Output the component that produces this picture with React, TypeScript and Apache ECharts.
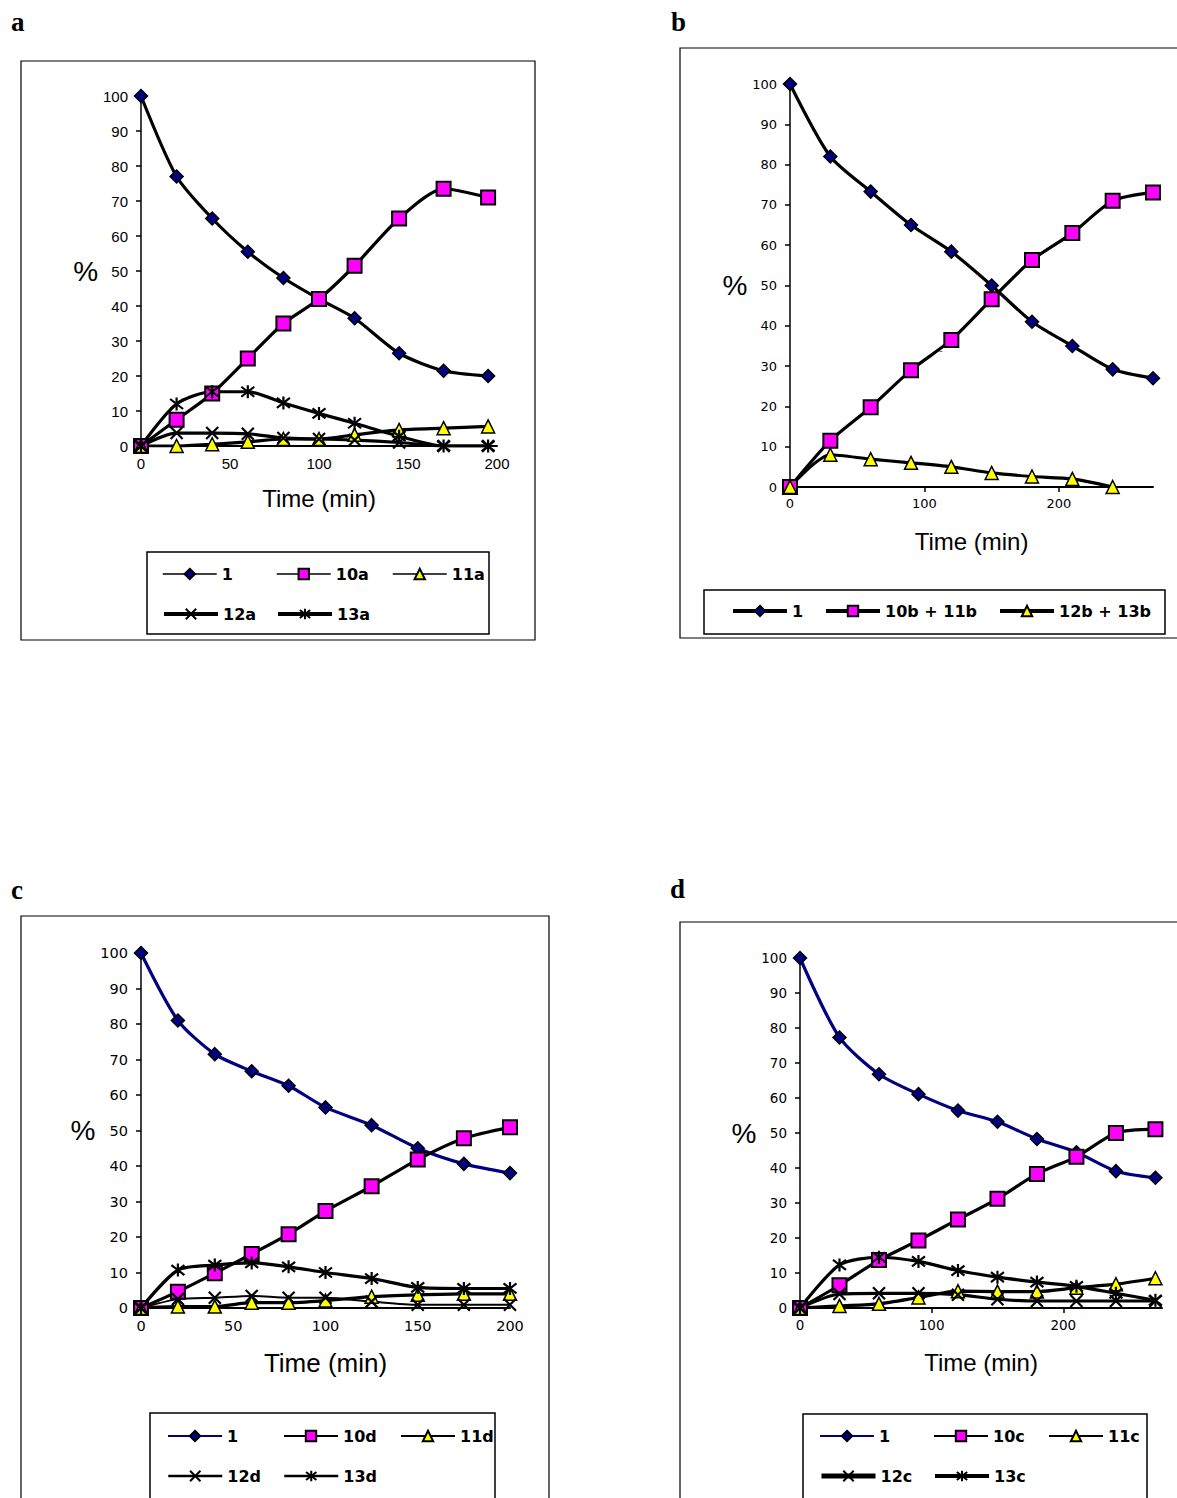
import React, { useEffect, useRef } from 'react';
import * as echarts from 'echarts';

// ---------- DATA ----------
const timeA = [0, 20, 40, 60, 80, 100, 120, 145, 170, 195];
const a1 = [100, 77, 65, 55.5, 48, 42, 36.5, 26.5, 21.5, 20];
const a10a = [0, 7.5, 15, 25, 35, 42, 51.5, 65, 73.5, 71];
const a11a = [0, 0, 0.5, 1.2, 2, 2, 3.2, 4.6, 5.1, 5.6];
const a12a = [0, 3.7, 3.7, 3.5, 2.3, 2, 1.7, 1, 0, 0];
const a13a = [0, 12, 15.5, 15.5, 12.3, 9.3, 6.5, 2.8, 0, 0];

const timeB = [0, 30, 60, 90, 120, 150, 180, 210, 240, 270];
const b1 = [100, 82, 73.3, 65, 58.4, 50, 41, 35, 29.2, 27];
const b10b11b = [0, 11.5, 19.8, 29, 36.5, 46.6, 56.3, 63, 71, 73.1];
const timeB12 = [0, 30, 60, 90, 120, 150, 180, 210, 240];
const b12b13b = [0, 8, 6.9, 6, 5, 3.5, 2.6, 2, 0];

const timeC = [0, 20, 40, 60, 80, 100, 125, 150, 175, 200];
const c1 = [100, 81, 71.5, 66.7, 62.6, 56.5, 51.5, 45, 40.6, 38];
const c10d = [0, 4.6, 9.8, 15.2, 20.8, 27.3, 34.3, 41.8, 47.8, 50.9];
const c11d = [0, 0.4, 0.4, 1.5, 1.5, 2.1, 3.2, 3.7, 4, 4];
const c12d = [0, 2.5, 2.9, 3.4, 2.9, 2.9, 1.8, 0.9, 0.9, 0.9];
const c13d = [0, 10.7, 12.1, 12.7, 11.6, 10, 8.3, 5.8, 5.5, 5.5];

const timeD = [0, 30, 60, 90, 120, 150, 180, 210, 240, 270];
const d1 = [100, 77.3, 66.8, 61.1, 56.4, 53.2, 48.3, 44.5, 39.1, 37.2];
const d10c = [0, 6.5, 13.7, 19.3, 25.3, 31.2, 38.3, 43.2, 50, 51.1];
const d11c = [0, 0.6, 1.2, 3, 4.8, 4.7, 4.7, 5.8, 6.8, 8.5];
const d12c = [0, 4, 4.2, 4.2, 3.8, 2.5, 2, 2, 2, 2];
const d13c = [0, 12.3, 14.5, 13.3, 10.7, 8.8, 7.4, 6.2, 4.2, 2.2];

const yTicks = [0, 10, 20, 30, 40, 50, 60, 70, 80, 90, 100];
const xTicksLong = [0, 100, 200];
const panelLetters = ['a', 'b', 'c', 'd'];

// ---------- STYLE ----------
const NAVY = '#000080';
const MAGENTA = '#FF00FF';
const YELLOW = '#FFFF00';
const X_SYM = 'path://M0,0L10,10M10,0L0,10';
const STAR_SYM = 'path://M0,0L10,10M10,0L0,10M5,-1.5L5,11.5';

const MARK: Record<string, any> = {
  diamond: { symbol: 'diamond', symbolSize: 13, itemStyle: { color: NAVY, borderColor: '#000', borderWidth: 1.5 } },
  square: { symbol: 'rect', symbolSize: 14, itemStyle: { color: MAGENTA, borderColor: '#000', borderWidth: 2 } },
  triangle: { symbol: 'triangle', symbolSize: 13, itemStyle: { color: YELLOW, borderColor: '#000', borderWidth: 1.5 } },
  cross: { symbol: X_SYM, symbolSize: 12, itemStyle: { color: '#000', borderColor: '#000', borderWidth: 2.2 } },
  star: { symbol: STAR_SYM, symbolSize: 13, itemStyle: { color: '#000', borderColor: '#000', borderWidth: 2.2 } },
};

const pairs = (xs: number[], ys: number[]) => xs.map((x, i) => [x, ys[i]]);

function line(panel: number, label: string, xs: number[], ys: number[], mark: string, color = '#000', width = 3.2) {
  const m = MARK[mark];
  return {
    type: 'line',
    name: panelLetters[panel] + '|' + label,
    xAxisIndex: panel,
    yAxisIndex: panel,
    data: pairs(xs, ys),
    smooth: 0.25,
    symbol: m.symbol,
    symbolSize: m.symbolSize,
    itemStyle: m.itemStyle,
    lineStyle: { color, width },
    showAllSymbol: true,
  };
}

function legendItem(panel: number, label: string, left: number, cy: number, lw: number, color = '#000', weight = 'bold') {
  return {
    show: true,
    data: [{ name: panelLetters[panel] + '|' + label, lineStyle: { width: lw, color } }],
    left,
    top: cy - 9,
    padding: 0,
    itemWidth: 54,
    itemHeight: 13,
    selectedMode: false,
    formatter: (n: string) => n.split('|')[1],
    textStyle: { fontFamily: 'DejaVu Sans', fontWeight: weight, fontSize: 16, color: '#000' },
  };
}

function panelAxes(i: number, xMax: number, xInt: number, labelFont: string, labelSize: number, titleSize: number, xNameGap: number, yNameGap: number, xTicks: boolean) {
  const xLabel: any = { fontFamily: labelFont, fontSize: labelSize, color: '#000', margin: 10 };
  const xTick: any = { show: xTicks, inside: false, length: 5, lineStyle: { color: '#000', width: 1.5 } };
  if (xTicks) {
    xLabel.customValues = xTicksLong;
    xTick.customValues = xTicksLong;
  }
  const xAxis = {
    type: 'value',
    gridIndex: i,
    min: 0,
    max: xMax,
    interval: xInt,
    name: 'Time (min)',
    nameLocation: 'middle',
    nameGap: xNameGap,
    nameTextStyle: { fontFamily: 'Liberation Sans', fontSize: titleSize, color: '#000' },
    axisLine: { show: true, onZero: true, lineStyle: { color: '#000', width: 2 } },
    axisTick: xTick,
    axisLabel: xLabel,
    splitLine: { show: false },
  };
  const yAxis = {
    type: 'value',
    gridIndex: i,
    min: 0,
    max: 100,
    interval: 10,
    name: '%',
    nameLocation: 'middle',
    nameRotate: 0,
    nameGap: yNameGap,
    nameTextStyle: { fontFamily: 'Liberation Sans', fontSize: 28, color: '#000' },
    axisLine: { show: true, onZero: false, lineStyle: { color: '#000', width: 1.5 } },
    axisTick: { show: true, inside: false, length: 5, lineStyle: { color: '#000', width: 1.5 } },
    axisLabel: { fontFamily: labelFont, fontSize: labelSize, color: '#000', margin: 13, customValues: yTicks },
    splitLine: { show: false },
  };
  return { xAxis, yAxis };
}

function rect(x: number, y: number, w: number, h: number, lw = 1.2) {
  return { type: 'rect', shape: { x, y, width: w, height: h }, style: { fill: 'none', stroke: '#000', lineWidth: lw }, silent: true, z: -1 };
}
function letter(t: string, x: number, y: number) {
  return { type: 'text', x, y, style: { text: t, font: 'bold 27px "Liberation Serif", serif', fill: '#000' } };
}

export default function App() {
  const ref = useRef<HTMLDivElement>(null);
  useEffect(() => {
    if (!ref.current) return;
    const chart = echarts.init(ref.current, null, { renderer: 'svg' });
    const pa = panelAxes(0, 200, 50, 'Liberation Sans', 15, 24, 40, 41, false);
    const pb = panelAxes(1, 270, 100, 'DejaVu Sans', 13, 24, 42, 34, true);
    const pc = panelAxes(2, 200, 50, 'DejaVu Sans', 14.5, 26, 42, 41, false);
    const pd = panelAxes(3, 275, 100, 'DejaVu Sans', 13.5, 24, 42, 43, true);

    const option: any = {
      animation: false,
      backgroundColor: '#fff',
      grid: [
        { left: 141, top: 96, width: 356, height: 350 },
        { left: 790, top: 84, width: 363, height: 403 },
        { left: 141, top: 953, width: 369, height: 355 },
        { left: 800, top: 958, width: 362, height: 350 },
      ],
      xAxis: [pa.xAxis, pb.xAxis, pc.xAxis, pd.xAxis],
      yAxis: [pa.yAxis, pb.yAxis, pc.yAxis, pd.yAxis],
      legend: [
        legendItem(0, '1', 162, 575, 1.5),
        legendItem(0, '10a', 276, 575, 1.5),
        legendItem(0, '11a', 392, 575, 1.5),
        legendItem(0, '12a', 162, 615, 4),
        legendItem(0, '13a', 276, 615, 4),
        legendItem(1, '1', 731, 612, 4),
        legendItem(1, '10b + 11b', 824, 612, 4),
        legendItem(1, '12b + 13b', 998, 612, 4),
        legendItem(2, '1', 167, 1437, 2, NAVY),
        legendItem(2, '10d', 283, 1437, 2),
        legendItem(2, '11d', 400, 1437, 2),
        legendItem(2, '12d', 167, 1477, 2.5),
        legendItem(2, '13d', 283, 1477, 2.5),
        legendItem(3, '1', 819, 1437, 2, NAVY),
        legendItem(3, '10c', 933, 1437, 2),
        legendItem(3, '11c', 1048, 1437, 2),
        legendItem(3, '12c', 819, 1477, 5),
        legendItem(3, '13c', 933, 1477, 4),
      ],
      series: [
        line(0, '1', timeA, a1, 'diamond'),
        line(0, '10a', timeA, a10a, 'square'),
        line(0, '11a', timeA, a11a, 'triangle'),
        line(0, '12a', timeA, a12a, 'cross'),
        line(0, '13a', timeA, a13a, 'star'),
        line(1, '1', timeB, b1, 'diamond'),
        line(1, '10b + 11b', timeB, b10b11b, 'square'),
        line(1, '12b + 13b', timeB12, b12b13b, 'triangle'),
        line(2, '1', timeC, c1, 'diamond', NAVY),
        line(2, '10d', timeC, c10d, 'square'),
        line(2, '11d', timeC, c11d, 'triangle'),
        line(2, '12d', timeC, c12d, 'cross', '#000', 2),
        line(2, '13d', timeC, c13d, 'star'),
        line(3, '1', timeD, d1, 'diamond', NAVY),
        line(3, '10c', timeD, d10c, 'square'),
        line(3, '11c', timeD, d11c, 'triangle'),
        line(3, '12c', timeD, d12c, 'cross'),
        line(3, '13c', timeD, d13c, 'star'),
      ],
      graphic: [
        rect(21, 61, 514, 579),
        rect(680, 48, 520, 590),
        rect(21, 916, 528, 600),
        rect(680, 922, 520, 600),
        rect(147, 552, 342, 82, 1.5),
        rect(704, 590, 461, 44, 1.5),
        rect(150, 1413, 345, 100, 1.5),
        rect(803, 1414, 344, 100, 1.5),
        letter('a', 11, 8),
        letter('b', 671, 8),
        letter('c', 11, 876),
        letter('d', 670, 875),
        { type: 'text', x: 938, y: 344, style: { text: 'c', font: '9px "DejaVu Sans"', fill: '#555' } },
      ],
    };
    chart.setOption(option);
    return () => chart.dispose();
  }, []);
  return <div ref={ref} style={{ position: 'absolute', left: 0, top: 0, width: 1177, height: 1498, background: '#fff' }} />;
}
